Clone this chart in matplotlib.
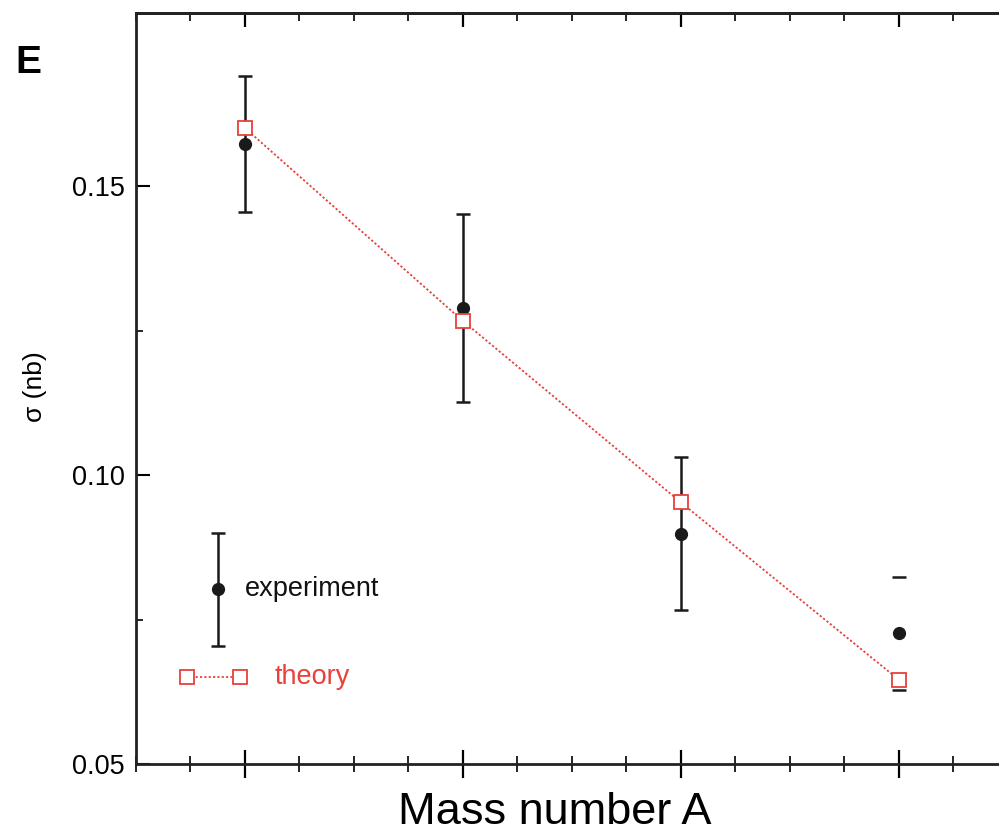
import matplotlib
matplotlib.use("Agg")
import matplotlib.pyplot as plt
from matplotlib.ticker import FixedLocator, MultipleLocator, NullFormatter

plt.rcParams['font.family'] = ['Liberation Sans', 'DejaVu Sans']

# data
mass_index = [1, 2, 3, 4]
exp_sigma = [0.1573, 0.1289, 0.0899, 0.0726]
exp_err = [0.0118, 0.0163, 0.0133, 0.0098]
theory_sigma = [0.1601, 0.1267, 0.0953, 0.0646]
yticks = [0.05, 0.10, 0.15]
ytick_labels = ["0.05", "0.10", "0.15"]

RED = "#e8403a"
DARK = "#1a1a1a"

fig = plt.figure(figsize=(9.99, 8.32), dpi=100)
ax = fig.add_axes([0.136, 0.0817, 0.864, 0.9027])

eb = ax.errorbar(mass_index, exp_sigma, yerr=exp_err, fmt='o', color=DARK,
                 ms=8.5, elinewidth=1.8, capsize=5, capthick=1.8, zorder=3)
# last point: only caps visible in the reference
eb[2][0].set_linewidths([1.8, 1.8, 1.8, 0])

ax.plot(mass_index, theory_sigma, linestyle=(0, (1.2, 1.2)), color=RED, lw=1.3,
        marker='s', ms=10, mfc='white', mec=RED, mew=1.3, zorder=4)

ax.set_xlim(0.5, 4.46)
ax.set_ylim(0.05, 0.18)

ax.xaxis.set_major_locator(FixedLocator(mass_index))
ax.xaxis.set_minor_locator(MultipleLocator(0.25))
ax.xaxis.set_major_formatter(NullFormatter())
ax.yaxis.set_major_locator(FixedLocator(yticks))
ax.set_yticklabels(ytick_labels)
ax.yaxis.set_minor_locator(FixedLocator([0.075, 0.125]))

ax.tick_params(axis='x', which='major', direction='inout', length=20, width=1.6,
               top=False, bottom=True)
ax.tick_params(axis='x', which='minor', direction='inout', length=11, width=1.2,
               top=False, bottom=True)
ax.tick_params(axis='y', which='major', direction='in', length=10, width=1.5,
               labelsize=19.5, pad=8, right=False)
ax.tick_params(axis='y', which='minor', direction='in', length=5, width=1.2, right=False)

# top axis ticks pointing inward only
top = ax.secondary_xaxis('top')
top.xaxis.set_major_locator(FixedLocator(mass_index))
top.xaxis.set_minor_locator(MultipleLocator(0.25))
top.xaxis.set_major_formatter(NullFormatter())
top.tick_params(which='major', direction='in', length=10, width=1.6)
top.tick_params(which='minor', direction='in', length=6, width=1.2)
top.spines['top'].set_linewidth(2.0)
top.spines['top'].set_color('#222222')

for side in ['left', 'bottom', 'top']:
    ax.spines[side].set_linewidth(2.0)
    ax.spines[side].set_color('#222222')
ax.spines['right'].set_visible(False)

# manual legend keys (axes fraction)
ax.errorbar([0.095], [0.233], yerr=[[0.076], [0.075]], fmt='o', color=DARK,
            ms=8.5, elinewidth=1.8, capsize=5, capthick=1.8,
            transform=ax.transAxes, clip_on=False)
ax.text(0.126, 0.233, "experiment", transform=ax.transAxes, fontsize=19.5,
        color='#111111', va='center', ha='left')
ax.plot([0.059, 0.1205], [0.116, 0.116], linestyle=(0, (1.2, 1.2)), color=RED,
        lw=1.3, marker='s', ms=10, mfc='white', mec=RED, mew=1.3,
        transform=ax.transAxes, clip_on=False)
ax.text(0.161, 0.116, "theory", transform=ax.transAxes, fontsize=19.5,
        color=RED, va='center', ha='left')

fig.text(0.555, 0.024, "Mass number A", fontsize=32.5, ha='center', va='center')
fig.text(0.035, 0.535, "σ (nb)", fontsize=19, rotation=90, ha='center', va='center')
fig.text(0.028, 0.924, "E", fontsize=28, fontweight='bold', ha='center', va='center')

fig.savefig("out.png", dpi=100)
